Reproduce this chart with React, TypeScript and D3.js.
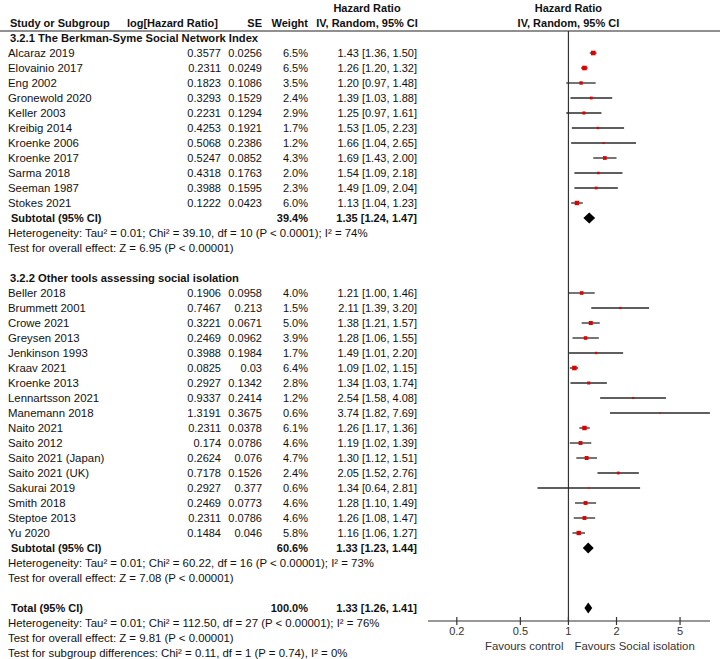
import React from "react";
import * as d3 from "d3";

// ---------- DATA ----------
const groupTitles = [
  "3.2.1 The Berkman-Syme Social Network Index",
  "3.2.2 Other tools assessing social isolation",
];

const studies1 = [
  "Alcaraz 2019", "Elovainio 2017", "Eng 2002", "Gronewold 2020", "Keller 2003",
  "Kreibig 2014", "Kroenke 2006", "Kroenke 2017", "Sarma 2018", "Seeman 1987", "Stokes 2021",
];
const logHR1 = [0.3577, 0.2311, 0.1823, 0.3293, 0.2231, 0.4253, 0.5068, 0.5247, 0.4318, 0.3988, 0.1222];
const se1 = [0.0256, 0.0249, 0.1086, 0.1529, 0.1294, 0.1921, 0.2386, 0.0852, 0.1763, 0.1595, 0.0423];
const weight1 = [6.5, 6.5, 3.5, 2.4, 2.9, 1.7, 1.2, 4.3, 2.0, 2.3, 6.0];
const hr1 = [1.43, 1.26, 1.2, 1.39, 1.25, 1.53, 1.66, 1.69, 1.54, 1.49, 1.13];
const lo1 = [1.36, 1.2, 0.97, 1.03, 0.97, 1.05, 1.04, 1.43, 1.09, 1.09, 1.04];
const hi1 = [1.5, 1.32, 1.48, 1.88, 1.61, 2.23, 2.65, 2.0, 2.18, 2.04, 1.23];

const studies2 = [
  "Beller 2018", "Brummett 2001", "Crowe 2021", "Greysen 2013", "Jenkinson 1993",
  "Kraav 2021", "Kroenke 2013", "Lennartsson 2021", "Manemann 2018", "Naito 2021",
  "Saito 2012", "Saito 2021 (Japan)", "Saito 2021 (UK)", "Sakurai 2019", "Smith 2018",
  "Steptoe 2013", "Yu 2020",
];
const logHR2 = [0.1906, 0.7467, 0.3221, 0.2469, 0.3988, 0.0825, 0.2927, 0.9337, 1.3191, 0.2311, 0.174, 0.2624, 0.7178, 0.2927, 0.2469, 0.2311, 0.1484];
const se2 = [0.0958, 0.213, 0.0671, 0.0962, 0.1984, 0.03, 0.1342, 0.2414, 0.3675, 0.0378, 0.0786, 0.076, 0.1526, 0.377, 0.0773, 0.0786, 0.046];
const weight2 = [4.0, 1.5, 5.0, 3.9, 1.7, 6.4, 2.8, 1.2, 0.6, 6.1, 4.6, 4.7, 2.4, 0.6, 4.6, 4.6, 5.8];
const hr2 = [1.21, 2.11, 1.38, 1.28, 1.49, 1.09, 1.34, 2.54, 3.74, 1.26, 1.19, 1.3, 2.05, 1.34, 1.28, 1.26, 1.16];
const lo2 = [1.0, 1.39, 1.21, 1.06, 1.01, 1.02, 1.03, 1.58, 1.82, 1.17, 1.02, 1.12, 1.52, 0.64, 1.1, 1.08, 1.06];
const hi2 = [1.46, 3.2, 1.57, 1.55, 2.2, 1.15, 1.74, 4.08, 7.69, 1.36, 1.39, 1.51, 2.76, 2.81, 1.49, 1.47, 1.27];

const subtotalLabels = ["Subtotal (95% CI)", "Subtotal (95% CI)", "Total (95% CI)"];
const subtotalWeight = [39.4, 60.6, 100.0];
const subtotalHR = [1.35, 1.33, 1.33];
const subtotalLo = [1.24, 1.23, 1.26];
const subtotalHi = [1.47, 1.44, 1.41];

const group1Stats = [
  "Heterogeneity: Tau\u00B2 = 0.01; Chi\u00B2 = 39.10, df = 10 (P < 0.0001); I\u00B2 = 74%",
  "Test for overall effect: Z = 6.95 (P < 0.00001)",
];
const group2Stats = [
  "Heterogeneity: Tau\u00B2 = 0.01; Chi\u00B2 = 60.22, df = 16 (P < 0.00001); I\u00B2 = 73%",
  "Test for overall effect: Z = 7.08 (P < 0.00001)",
];
const totalStats = [
  "Heterogeneity: Tau\u00B2 = 0.01; Chi\u00B2 = 112.50, df = 27 (P < 0.00001); I\u00B2 = 76%",
  "Test for overall effect: Z = 9.81 (P < 0.00001)",
  "Test for subgroup differences: Chi\u00B2 = 0.11, df = 1 (P = 0.74), I\u00B2 = 0%",
];

const axisTicks = [0.2, 0.5, 1, 2, 5];
const favoursLeft = "Favours control";
const favoursRight = "Favours Social isolation";

// ---------- LAYOUT ----------
const W = 720;
const H = 659;
const FONT = "'Liberation Sans', Arial, sans-serif";
const FS = 11;
const FS_WIDE = 11.4;
const rowY = (k: number) => 38 + 15 * k;
const AXIS_Y = 621;

const x = d3.scaleLog().domain([0.132, 7.7]).range([428, 710]);

const COL_NAME = 8;
const COL_LOG = 221;
const COL_SE = 262;
const COL_W = 308;
const COL_CI = 417;

type Row =
  | { kind: "group"; k: number; text: string }
  | { kind: "study"; k: number; name: string; log: number; se: number; w: number; hr: number; lo: number; hi: number }
  | { kind: "sub"; k: number; label: string; w: number; hr: number; lo: number; hi: number }
  | { kind: "stat"; k: number; text: string };

function buildRows(): Row[] {
  const rows: Row[] = [];
  let k = 0;
  rows.push({ kind: "group", k: k++, text: groupTitles[0] });
  studies1.forEach((n, i) =>
    rows.push({ kind: "study", k: k++, name: n, log: logHR1[i], se: se1[i], w: weight1[i], hr: hr1[i], lo: lo1[i], hi: hi1[i] })
  );
  rows.push({ kind: "sub", k: k++, label: subtotalLabels[0], w: subtotalWeight[0], hr: subtotalHR[0], lo: subtotalLo[0], hi: subtotalHi[0] });
  group1Stats.forEach((t) => rows.push({ kind: "stat", k: k++, text: t }));
  k++;
  rows.push({ kind: "group", k: k++, text: groupTitles[1] });
  studies2.forEach((n, i) =>
    rows.push({ kind: "study", k: k++, name: n, log: logHR2[i], se: se2[i], w: weight2[i], hr: hr2[i], lo: lo2[i], hi: hi2[i] })
  );
  rows.push({ kind: "sub", k: k++, label: subtotalLabels[1], w: subtotalWeight[1], hr: subtotalHR[1], lo: subtotalLo[1], hi: subtotalHi[1] });
  group2Stats.forEach((t) => rows.push({ kind: "stat", k: k++, text: t }));
  k++;
  rows.push({ kind: "sub", k: k++, label: subtotalLabels[2], w: subtotalWeight[2], hr: subtotalHR[2], lo: subtotalLo[2], hi: subtotalHi[2] });
  totalStats.forEach((t) => rows.push({ kind: "stat", k: k++, text: t }));
  return rows;
}

const ciText = (hr: number, lo: number, hi: number) =>
  `${hr.toFixed(2)} [${lo.toFixed(2)}, ${hi.toFixed(2)}]`;

export default function App() {
  const rows = buildRows();
  const txt = (props: any, s: string) => (
    <text fontFamily={FONT} fontSize={FS} fill="#111" dy="0.35em" {...props}>
      {s}
    </text>
  );
  const line = d3.line();
  return (
    <svg
      width={W}
      height={H}
      style={{ position: "absolute", left: 0, top: 0, background: "#fff" }}
    >
      <rect width={W} height={H} fill="#fff" />
      {/* headers */}
      {txt({ x: 367, y: 8, textAnchor: "middle", fontWeight: "bold" }, "Hazard Ratio")}
      {txt({ x: 367, y: 23, textAnchor: "middle", fontWeight: "bold" }, "IV, Random, 95% CI")}
      {txt({ x: x(1), y: 8, textAnchor: "middle", fontWeight: "bold" }, "Hazard Ratio")}
      {txt({ x: x(1), y: 23, textAnchor: "middle", fontWeight: "bold" }, "IV, Random, 95% CI")}
      {txt({ x: 10, y: 23, fontWeight: "bold" }, "Study or Subgroup")}
      {txt({ x: 218, y: 23, textAnchor: "end", fontWeight: "bold" }, "log[Hazard Ratio]")}
      {txt({ x: COL_SE, y: 23, textAnchor: "end", fontWeight: "bold" }, "SE")}
      {txt({ x: COL_W, y: 23, textAnchor: "end", fontWeight: "bold" }, "Weight")}
      <line x1={0} x2={W} y1={31} y2={31} stroke="#222" strokeWidth={1.2} />

      {/* null line */}
      <line x1={x(1)} x2={x(1)} y1={31} y2={AXIS_Y} stroke="#333" strokeWidth={1.2} />

      {rows.map((r, i) => {
        const y = rowY(r.k);
        if (r.kind === "group")
          return <g key={i}>{txt({ x: 10, y, fontWeight: "bold", fontSize: FS_WIDE - 0.2 }, r.text)}</g>;
        if (r.kind === "stat")
          return <g key={i}>{txt({ x: 8, y, fontSize: FS_WIDE }, r.text)}</g>;
        if (r.kind === "study") {
          const s = 1.8 * Math.sqrt(r.w);
          return (
            <g key={i}>
              {txt({ x: COL_NAME, y, fontSize: FS_WIDE }, r.name)}
              {txt({ x: COL_LOG, y, textAnchor: "end" }, String(r.log))}
              {txt({ x: COL_SE, y, textAnchor: "end" }, String(r.se))}
              {txt({ x: COL_W, y, textAnchor: "end" }, r.w.toFixed(1) + "%")}
              {txt({ x: COL_CI, y, textAnchor: "end" }, ciText(r.hr, r.lo, r.hi))}
              <path
                d={line([[x(r.lo), y], [x(r.hi), y]]) || ""}
                stroke="#2a2a2a"
                strokeWidth={1.3}
              />
              <rect x={x(r.hr) - s / 2} y={y - s / 2} width={s} height={s} fill="#e00000" />
            </g>
          );
        }
        const dia = line([
          [x(r.lo), y],
          [x(r.hr), y - 5.5],
          [x(r.hi), y],
          [x(r.hr), y + 5.5],
        ]);
        return (
          <g key={i}>
            {txt({ x: 11, y, fontWeight: "bold" }, r.label)}
            {txt({ x: COL_W, y, textAnchor: "end", fontWeight: "bold" }, r.w.toFixed(1) + "%")}
            {txt({ x: COL_CI, y, textAnchor: "end", fontWeight: "bold" }, ciText(r.hr, r.lo, r.hi))}
            <path d={(dia || "") + "Z"} fill="#000" />
          </g>
        );
      })}

      {/* axis */}
      <line x1={x.range()[0]} x2={x.range()[1]} y1={AXIS_Y} y2={AXIS_Y} stroke="#333" strokeWidth={1.2} />
      {axisTicks.map((t) => (
        <g key={t}>
          <line x1={x(t)} x2={x(t)} y1={AXIS_Y - 4} y2={AXIS_Y + 4} stroke="#333" strokeWidth={1.2} />
          {txt({ x: x(t), y: AXIS_Y + 10, textAnchor: "middle", fill: "#333" }, String(t))}
        </g>
      ))}
      {txt({ x: x(1) - 5, y: AXIS_Y + 25, textAnchor: "end", fill: "#333", fontSize: FS_WIDE }, favoursLeft)}
      {txt({ x: x(1) + 6, y: AXIS_Y + 25, fill: "#333", fontSize: FS_WIDE }, favoursRight)}
    </svg>
  );
}
